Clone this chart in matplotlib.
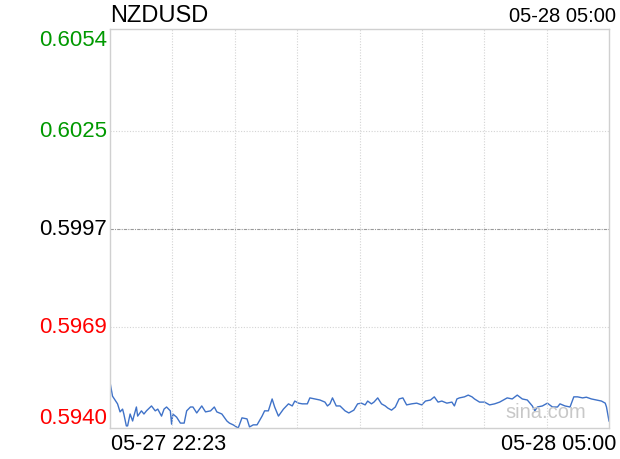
import matplotlib
matplotlib.use("Agg")
import matplotlib.pyplot as plt
import matplotlib.transforms as mtransforms

plt.rcParams['font.family'] = ['Liberation Sans', 'DejaVu Sans']

symbol = 'NZDUSD'
time_start = '05-27 22:23'
time_end = '05-28 05:00'
total_minutes = 397

# minutes since 22:23 and price
minutes = [0, 2, 6, 8, 10, 11, 13, 14, 16, 18, 19, 21, 22, 25, 27, 29, 33, 36, 38, 41,
           43, 45, 48, 49, 50, 53, 56, 59, 61, 64, 66, 69, 73, 76, 80, 83, 85, 89, 93, 95,
           98, 102, 105, 109, 111, 114, 117, 121, 123, 126, 129, 131, 134, 138, 142, 145, 147, 150, 153, 157,
           159, 163, 167, 171, 173, 175, 177, 180, 183, 187, 190, 194, 197, 200, 203, 205, 208, 210, 213, 216,
           219, 221, 224, 227, 230, 233, 236, 240, 244, 248, 251, 255, 258, 261, 264, 268, 272, 274, 276, 278,
           282, 285, 288, 290, 294, 298, 302, 306, 310, 316, 320, 324, 328, 332, 336, 338, 340, 344, 348, 352,
           356, 358, 362, 366, 369, 372, 376, 379, 383, 387, 391, 394, 395, 397]
prices = [0.59531, 0.59491, 0.59469, 0.59446, 0.59454, 0.59440, 0.59406, 0.59406, 0.59440, 0.59420,
          0.59434, 0.59460, 0.59434, 0.59449, 0.59440, 0.59449, 0.59463, 0.59449, 0.59454, 0.59434,
          0.59454, 0.59460, 0.59449, 0.59411, 0.59440, 0.59431, 0.59414, 0.59414, 0.59449, 0.59460,
          0.59460, 0.59443, 0.59463, 0.59446, 0.59449, 0.59460, 0.59446, 0.59440, 0.59420, 0.59414,
          0.59409, 0.59400, 0.59429, 0.59426, 0.59403, 0.59409, 0.59409, 0.59434, 0.59449, 0.59449,
          0.59483, 0.59460, 0.59434, 0.59454, 0.59469, 0.59463, 0.59477, 0.59471, 0.59469, 0.59469,
          0.59486, 0.59483, 0.59480, 0.59474, 0.59463, 0.59469, 0.59486, 0.59463, 0.59463, 0.59449,
          0.59443, 0.59451, 0.59469, 0.59471, 0.59466, 0.59477, 0.59469, 0.59474, 0.59486, 0.59469,
          0.59463, 0.59457, 0.59451, 0.59460, 0.59483, 0.59486, 0.59466, 0.59469, 0.59471, 0.59466,
          0.59477, 0.59480, 0.59489, 0.59474, 0.59477, 0.59471, 0.59474, 0.59463, 0.59483, 0.59486,
          0.59489, 0.59494, 0.59489, 0.59483, 0.59474, 0.59474, 0.59466, 0.59469, 0.59474, 0.59486,
          0.59483, 0.59494, 0.59483, 0.59480, 0.59463, 0.59449, 0.59460, 0.59463, 0.59471, 0.59460,
          0.59460, 0.59469, 0.59463, 0.59460, 0.59489, 0.59489, 0.59486, 0.59488, 0.59483, 0.59480,
          0.59477, 0.59471, 0.59460, 0.59420]

y_ticks = [0.5940, 0.5969, 0.5997, 0.6025, 0.6054]
y_labels = ['0.5940', '0.5969', '0.5997', '0.6025', '0.6054']
y_colors = ['#ff0000', '#ff0000', '#000000', '#009900', '#009900']

fig = plt.figure(figsize=(6.2, 4.6), dpi=100)
ax = fig.add_axes([110 / 620, 31 / 460, 499 / 620, 399 / 460])

ax.plot(minutes, prices, color='#3f72c8', lw=1.0)
ax.set_xlim(0, total_minutes)
ax.set_ylim(y_ticks[0], y_ticks[-1])
ax.set_xticks([])
ax.set_yticks([])

# grid
for i in range(1, 8):
    ax.axvline(total_minutes * i / 8, color='#d4d4d4', lw=0.8, ls=(0, (1, 1.5)))
for t in [y_ticks[1], y_ticks[3]]:
    ax.axhline(t, color='#d4d4d4', lw=0.8, ls=(0, (1, 1.5)))
ax.axhline(y_ticks[2], color='#999999', lw=0.8, ls=(0, (3, 1, 1, 1)))

for s in ax.spines.values():
    s.set_color('#d0d0d0')
    s.set_linewidth(1.0)

trans = mtransforms.blended_transform_factory(ax.transAxes, ax.transData)
for i, (t, lab, c) in enumerate(zip(y_ticks, y_labels, y_colors)):
    va = 'center'
    if i == 0:
        va = 'bottom'
    elif i == len(y_ticks) - 1:
        va = 'top'
    ax.text(-0.006, t, lab, transform=trans, ha='right', va=va, color=c, fontsize=16)

fig.text(110 / 620, 1 - 16 / 460, symbol, ha='left', va='center', fontsize=17)
fig.text(616 / 620, 1 - 17 / 460, time_end, ha='right', va='center', fontsize=14.5)
fig.text(111 / 620, 1 - 445 / 460, time_start, ha='left', va='center', fontsize=15.5)
fig.text(616 / 620, 1 - 445 / 460, time_end, ha='right', va='center', fontsize=15.5)
fig.text(586 / 620, 1 - 413 / 460, 'sina.com', ha='right', va='center', fontsize=14.5, color='#c8c8c8')

fig.savefig('out.png', dpi=100)
